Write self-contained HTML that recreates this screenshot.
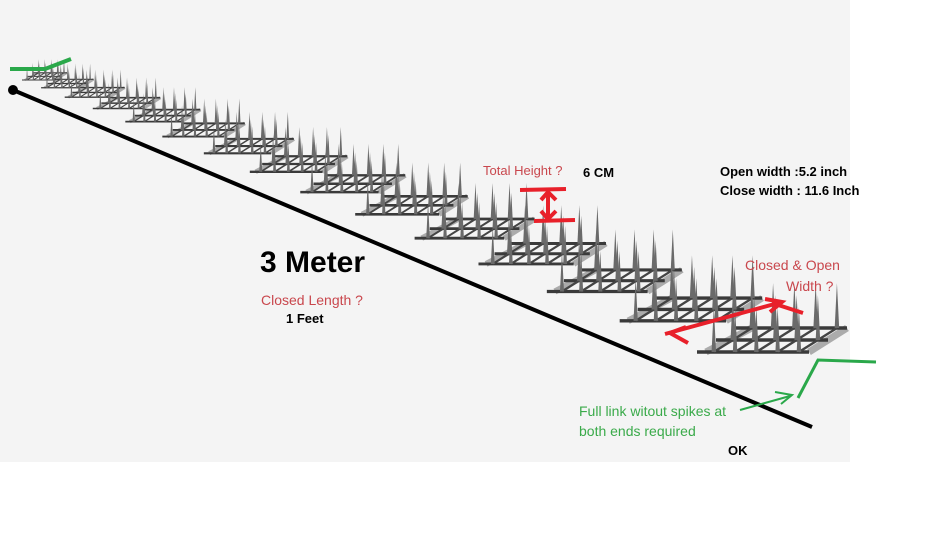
<!DOCTYPE html>
<html><head><meta charset="utf-8">
<style>
html,body{margin:0;padding:0;background:#fff;}
#wrap{position:relative;width:925px;height:537px;overflow:hidden;font-family:"Liberation Sans",sans-serif;}
#bg{position:absolute;left:0;top:0;width:850px;height:462px;background:#f4f4f4;}
svg{position:absolute;left:0;top:0;}
.t{position:absolute;white-space:nowrap;}
</style></head><body>
<div id="wrap">
<div id="bg"></div>
<svg id="s" width="925" height="537" viewBox="0 0 925 537"></svg>
<div class="t" style="left:483px;top:163px;font-size:13px;color:#c9474d;">Total Height ?</div>
<div class="t" style="left:583px;top:165px;font-size:13px;font-weight:bold;color:#000;">6 CM</div>
<div class="t" style="left:720px;top:162px;font-size:13px;font-weight:bold;color:#000;line-height:19px;">Open width :5.2 inch<br>Close width : 11.6 Inch</div>
<div class="t" style="left:260px;top:246px;font-size:30px;font-weight:bold;color:#000;">3 Meter</div>
<div class="t" style="left:261px;top:292px;font-size:14px;color:#c9474d;">Closed Length ?</div>
<div class="t" style="left:286px;top:311px;font-size:13px;font-weight:bold;color:#000;">1 Feet</div>
<div class="t" style="left:745px;top:257px;font-size:14px;color:#c9474d;">Closed &amp; Open</div>
<div class="t" style="left:786px;top:278px;font-size:14px;color:#c9474d;">Width ?</div>
<div class="t" style="left:579px;top:401px;font-size:14px;color:#3aaa4a;line-height:20px;">Full link witout spikes at<br>both ends required</div>
<div class="t" style="left:728px;top:443px;font-size:13px;font-weight:bold;color:#000;">OK</div>
</div>
<script>
var s=document.getElementById('s'),h='';
var N=15;
for(var i=0;i<N;i++){
  var t=i/(N-1), k=0.3+0.7*t;
  var f=0.35*t+0.65*t*t;
  var fx=22+675*f, fy=80+272*f;
  var L=112*k, bx=38*k, by=-24*k, sh=45*k, sw=Math.max(1.5,4.5*k);
  var c1='#3a3a3a',c2='#999';
  h+='<line x1="'+(fx+L*0.08)+'" y1="'+fy+'" x2="'+(fx+bx+L*0.15)+'" y2="'+(fy+by)+'" stroke="'+c2+'" stroke-width="'+Math.max(2,7*k)+'" opacity="0.8"/>';
  h+='<line x1="'+(fx+L)+'" y1="'+fy+'" x2="'+(fx+bx+L)+'" y2="'+(fy+by)+'" stroke="'+c2+'" stroke-width="'+Math.max(2,7*k)+'" opacity="0.8"/>';
  for(var r=0;r<3;r++){
    var ox=fx+bx*r/2, oy=fy+by*r/2;
    h+='<line x1="'+ox+'" y1="'+oy+'" x2="'+(ox+L)+'" y2="'+oy+'" stroke="'+c1+'" stroke-width="'+Math.max(1,3.5*k)+'"/>';
  }
  for(var j=0;j<5;j++){
    var px=fx+L*(0.15+0.19*j);
    h+='<line x1="'+px+'" y1="'+fy+'" x2="'+(px+bx)+'" y2="'+(fy+by)+'" stroke="#444" stroke-width="'+Math.max(1,2.5*k)+'"/>';
  }
  for(var r=2;r>=0;r--){
    var ox=fx+bx*r/2, oy=fy+by*r/2;
    for(var j=0;j<5;j++){
      var px=ox+L*(0.15+0.19*j);
      h+='<polygon points="'+(px-sw/2)+','+oy+' '+(px+sw/2)+','+oy+' '+px+','+(oy-sh)+'" fill="#6a6a6a"/>';
    }
  }
}
h+='<line x1="13" y1="90" x2="812" y2="427" stroke="#000" stroke-width="4"/>';
h+='<circle cx="13" cy="90" r="5" fill="#000"/>';
h+='<polyline points="10,69 45,69 71,59" fill="none" stroke="#2aa84a" stroke-width="4"/>';
h+='<polyline points="798,398 818,360 876,362" fill="none" stroke="#2aa84a" stroke-width="3"/>';
h+='<line x1="740" y1="410" x2="790" y2="396" stroke="#2aa84a" stroke-width="2"/>';
h+='<polyline points="775,392 792,395 781,404" fill="none" stroke="#2aa84a" stroke-width="2"/>';
h+='<line x1="520" y1="190" x2="566" y2="189" stroke="#e8202a" stroke-width="4"/>';
h+='<line x1="534" y1="221" x2="575" y2="220" stroke="#e8202a" stroke-width="4"/>';
h+='<line x1="548" y1="192" x2="548" y2="219" stroke="#e8202a" stroke-width="4"/>';
h+='<polyline points="541,200 548,192 556,200" fill="none" stroke="#e8202a" stroke-width="4"/>';
h+='<polyline points="541,211 548,219 556,211" fill="none" stroke="#e8202a" stroke-width="4"/>';
h+='<line x1="665" y1="334" x2="782" y2="302" stroke="#e8202a" stroke-width="4"/>';
h+='<line x1="772" y1="303" x2="803" y2="313" stroke="#e8202a" stroke-width="4"/>';
h+='<polyline points="688,343 670,333 686,327" fill="none" stroke="#e8202a" stroke-width="4"/>';
h+='<polyline points="765,299 782,302 770,312" fill="none" stroke="#e8202a" stroke-width="4"/>';
s.innerHTML=h;
</script>
</body></html>
